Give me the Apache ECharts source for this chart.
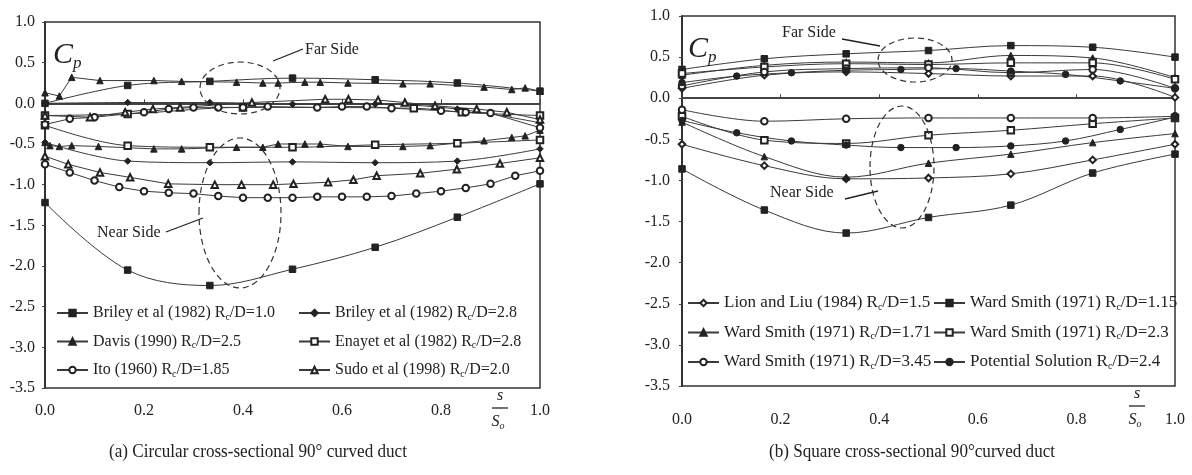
<!DOCTYPE html>
<html>
<head>
<meta charset="utf-8">
<script src="https://cdn.jsdelivr.net/npm/echarts@6/dist/echarts.min.js"></script>
<style>
  html, body { margin: 0; padding: 0; background: #fff; }
  #chart { width: 1192px; height: 475px; }
</style>
</head>
<body>
<div id="chart"></div>
<script>
// s/So stations
const sixths = [0, 0.167, 0.333, 0.5, 0.667, 0.833, 1.0];
const ninths = [0, 0.111, 0.222, 0.333, 0.444, 0.556, 0.667, 0.778, 0.889, 1.0];
const yTicks = [-3.5, -3.0, -2.5, -2.0, -1.5, -1.0, -0.5, 0.0, 0.5, 1.0];

// (a) circular duct
const brileyA_far = [0.0, 0.22, 0.27, 0.31, 0.29, 0.25, 0.15];
const brileyA_near = [-1.22, -2.05, -2.24, -2.04, -1.77, -1.40, -0.99];
const brileyB_far = [0.0, 0.01, 0.01, -0.01, -0.01, -0.07, -0.24];
const brileyB_near = [-0.48, -0.71, -0.73, -0.72, -0.73, -0.71, -0.56];

const davisFarX = [0, 0.029, 0.054, 0.111, 0.220, 0.276, 0.387, 0.440, 0.471, 0.525, 0.556, 0.612, 0.723, 0.778, 0.887, 0.943, 0.970, 1.0];
const davisFar = [0.13, 0.09, 0.32, 0.28, 0.28, 0.27, 0.26, 0.25, 0.25, 0.26, 0.26, 0.25, 0.24, 0.24, 0.20, 0.17, 0.19, 0.15];
const davisNearX = [0, 0.01, 0.029, 0.054, 0.108, 0.220, 0.276, 0.387, 0.440, 0.471, 0.525, 0.556, 0.612, 0.723, 0.778, 0.887, 0.943, 0.970, 1.0];
const davisNear = [-0.48, -0.52, -0.53, -0.52, -0.53, -0.56, -0.56, -0.54, -0.54, -0.50, -0.50, -0.50, -0.53, -0.53, -0.52, -0.46, -0.42, -0.40, -0.33];

const enayetFarX = [0, 0.167, 0.40, 0.745, 0.842, 1.0];
const enayetFar = [-0.15, -0.13, -0.05, -0.06, -0.11, -0.15];
const enayetNear = [-0.27, -0.52, -0.54, -0.54, -0.51, -0.49, -0.45];

const itoFarX = [0, 0.05, 0.10, 0.20, 0.25, 0.30, 0.35, 0.40, 0.45, 0.55, 0.60, 0.65, 0.70, 0.80, 0.85, 0.90, 1.0];
const itoFar = [-0.26, -0.19, -0.17, -0.11, -0.07, -0.05, -0.05, -0.05, -0.04, -0.05, -0.04, -0.04, -0.06, -0.09, -0.11, -0.12, -0.30];
const itoNearX = [0, 0.05, 0.10, 0.15, 0.20, 0.25, 0.30, 0.35, 0.40, 0.45, 0.50, 0.55, 0.60, 0.65, 0.70, 0.75, 0.80, 0.85, 0.90, 0.95, 1.0];
const itoNear = [-0.75, -0.85, -0.95, -1.03, -1.08, -1.10, -1.11, -1.14, -1.16, -1.16, -1.16, -1.15, -1.15, -1.15, -1.14, -1.11, -1.08, -1.04, -0.99, -0.89, -0.83];

const sudoFarX = [0, 0.091, 0.162, 0.218, 0.273, 0.418, 0.566, 0.613, 0.673, 0.727, 0.788, 0.872, 0.933, 1.0];
const sudoFar = [-0.15, -0.17, -0.11, -0.07, -0.05, 0.01, 0.05, 0.05, 0.04, 0.01, -0.03, -0.07, -0.11, -0.20];
const sudoNearX = [0, 0.047, 0.111, 0.172, 0.249, 0.343, 0.397, 0.461, 0.502, 0.572, 0.623, 0.670, 0.758, 0.832, 0.919, 1.0];
const sudoNear = [-0.65, -0.75, -0.85, -0.91, -0.99, -1.00, -1.00, -1.00, -0.99, -0.97, -0.94, -0.89, -0.86, -0.81, -0.74, -0.67];

// (b) square duct
const lionFar = [0.12, 0.28, 0.32, 0.30, 0.27, 0.27, 0.01];
const lionNear = [-0.56, -0.82, -0.98, -0.97, -0.92, -0.75, -0.56];
const ws115Far = [0.35, 0.48, 0.54, 0.58, 0.64, 0.62, 0.50];
const ws115Near = [-0.86, -1.36, -1.64, -1.45, -1.30, -0.91, -0.68];
const ws171Far = [0.28, 0.40, 0.44, 0.43, 0.52, 0.49, 0.25];
const ws171Near = [-0.29, -0.71, -0.96, -0.79, -0.68, -0.54, -0.43];
const ws23Far = [0.30, 0.38, 0.42, 0.41, 0.43, 0.43, 0.23];
const ws23Near = [-0.22, -0.51, -0.55, -0.45, -0.39, -0.31, -0.24];
const ws345Far = [0.15, 0.32, 0.36, 0.37, 0.31, 0.35, 0.12];
const ws345Near = [-0.14, -0.28, -0.25, -0.24, -0.24, -0.24, -0.22];
const potFar = [0.19, 0.27, 0.31, 0.34, 0.35, 0.36, 0.33, 0.29, 0.21, 0.12];
const potNear = [-0.27, -0.42, -0.52, -0.57, -0.60, -0.60, -0.58, -0.52, -0.38, -0.23];

const namesA = [
  'Briley et al (1982) Rc/D=1.0', 'Briley et al (1982) Rc/D=2.8',
  'Davis (1990) Rc/D=2.5', 'Enayet et al (1982) Rc/D=2.8',
  'Ito (1960) Rc/D=1.85', 'Sudo et al (1998) Rc/D=2.0'
];
const namesB = [
  'Lion and Liu (1984) Rc/D=1.5', 'Ward Smith (1971) Rc/D=1.15',
  'Ward Smith (1971) Rc/D=1.71', 'Ward Smith (1971) Rc/D=2.3',
  'Ward Smith (1971) Rc/D=3.45', 'Potential Solution Rc/D=2.4'
];

const FONT = 'Liberation Serif';
const INK = '#222';

function line(name, xs, ys, sym, g, smooth) {
  return {
    name: name, type: 'line', xAxisIndex: g, yAxisIndex: g,
    data: xs.map(function (x, i) { return [x, ys[i]]; }),
    symbol: sym, symbolSize: 6.5,
    smooth: smooth ? 0.35 : false,
    lineStyle: { color: '#3a3a3a', width: 1 },
    itemStyle: { color: INK, borderColor: INK, borderWidth: 1 },
    animation: false
  };
}

function xAxis(g, margin) {
  return {
    gridIndex: g, type: 'value', min: 0, max: 1, interval: 0.2,
    axisLine: { lineStyle: { color: '#444', width: 2 } },
    axisTick: { inside: true, length: 4, lineStyle: { color: '#444' } },
    axisLabel: { color: INK, fontFamily: FONT, fontSize: 16, margin: margin,
      formatter: function (v) { return v.toFixed(1); } },
    splitLine: { show: false }
  };
}
function yAxis(g, margin) {
  return {
    gridIndex: g, type: 'value', min: yTicks[0], max: yTicks[yTicks.length - 1], interval: 0.5,
    axisLine: { show: true, lineStyle: { color: '#222', width: 1.5 } },
    axisTick: { show: true, length: 3, lineStyle: { color: '#444' } },
    axisLabel: { color: INK, fontFamily: FONT, fontSize: 16, margin: margin,
      formatter: function (v) { return v.toFixed(1); } },
    splitLine: { show: false }
  };
}

function legend(names, left, top, gap, size) {
  return {
    data: names, orient: 'vertical', left: left, top: top,
    itemWidth: 31, itemHeight: 8, itemGap: gap,
    textStyle: {
      fontFamily: FONT, fontSize: size, color: INK, lineHeight: 18,
      rich: { s: { fontFamily: FONT, fontSize: 10, lineHeight: 10, verticalAlign: 'bottom', color: INK } }
    },
    formatter: function (n) { return n.replace('Rc/D', 'R{s|c}/D'); }
  };
}

function txt(x, y, s, size, extra) {
  return Object.assign({
    type: 'text', x: x, y: y, z: 10,
    style: { text: s, fontFamily: FONT, fontSize: size, fill: INK, textAlign: 'left', textVerticalAlign: 'middle' }
  }, extra || {});
}
function ell(cx, cy, rx, ry) {
  return { type: 'ellipse', shape: { cx: cx, cy: cy, rx: rx, ry: ry },
    style: { fill: 'none', stroke: '#333', lineWidth: 1.2, lineDash: [6, 4] }, z: 10 };
}
function seg(x1, y1, x2, y2) {
  return { type: 'line', shape: { x1: x1, y1: y1, x2: x2, y2: y2 },
    style: { stroke: '#222', lineWidth: 1.3 }, z: 10 };
}
function cp(x, y) {
  return {
    type: 'text', x: x, y: y, z: 10,
    style: {
      text: '{c|C}{p|p}', fontFamily: FONT,
      rich: {
        c: { fontFamily: FONT, fontStyle: 'italic', fontSize: 30, lineHeight: 34, fill: INK },
        p: { fontFamily: FONT, fontStyle: 'italic', fontSize: 17, lineHeight: 17, verticalAlign: 'bottom', fill: INK }
      }
    }
  };
}
function sOverS0(x, y) {
  return [
    { type: 'text', x: x, y: y, style: { text: 's', fontFamily: FONT, fontStyle: 'italic', fontSize: 16, fill: INK, textAlign: 'center', textVerticalAlign: 'middle' } },
    seg(x - 8, y + 12, x + 8, y + 12),
    { type: 'text', x: x - 2, y: y + 26, style: { text: '{a|S}{b|o}', rich: {
      a: { fontFamily: FONT, fontStyle: 'italic', fontSize: 16, lineHeight: 18, fill: INK },
      b: { fontFamily: FONT, fontStyle: 'italic', fontSize: 10, lineHeight: 10, verticalAlign: 'bottom', fill: INK } },
      textAlign: 'center', textVerticalAlign: 'middle' } }
  ];
}
function caption(cx, y, s) {
  return { type: 'text', x: cx, y: y, scaleX: 0.9, z: 10,
    style: { text: s, fontFamily: FONT, fontSize: 19, fill: INK, textAlign: 'center', textVerticalAlign: 'middle' } };
}

const chart = echarts.init(document.getElementById('chart'));

const option = {
  animation: false,
  backgroundColor: '#fff',
  grid: [
    { left: 45, top: 22, width: 495, height: 366, show: true, borderColor: '#333', borderWidth: 1.5 },
    { left: 682, top: 16, width: 493, height: 370, show: true, borderColor: '#333', borderWidth: 1.5 }
  ],
  xAxis: [xAxis(0, 15), xAxis(1, 26)],
  yAxis: [yAxis(0, 10), yAxis(1, 12)],
  legend: [
    legend([namesA[0], namesA[2], namesA[4]], 51, 299, 10.5, 16),
    legend([namesA[1], namesA[3], namesA[5]], 293, 299, 10.5, 16),
    legend([namesB[0], namesB[2], namesB[4]], 682, 289, 11.5, 17),
    legend([namesB[1], namesB[3], namesB[5]], 928, 289, 11.5, 17)
  ],
  series: [
    line(namesA[0], sixths, brileyA_far, 'rect', 0, true),
    line(namesA[0], sixths, brileyA_near, 'rect', 0, true),
    line(namesA[1], sixths, brileyB_far, 'diamond', 0, true),
    line(namesA[1], sixths, brileyB_near, 'diamond', 0, true),
    line(namesA[2], davisFarX, davisFar, 'triangle', 0, false),
    line(namesA[2], davisNearX, davisNear, 'triangle', 0, false),
    line(namesA[3], enayetFarX, enayetFar, 'emptyRect', 0, true),
    line(namesA[3], sixths, enayetNear, 'emptyRect', 0, true),
    line(namesA[4], itoFarX, itoFar, 'emptyCircle', 0, false),
    line(namesA[4], itoNearX, itoNear, 'emptyCircle', 0, false),
    line(namesA[5], sudoFarX, sudoFar, 'emptyTriangle', 0, false),
    line(namesA[5], sudoNearX, sudoNear, 'emptyTriangle', 0, false),

    line(namesB[0], sixths, lionFar, 'emptyDiamond', 1, true),
    line(namesB[0], sixths, lionNear, 'emptyDiamond', 1, true),
    line(namesB[1], sixths, ws115Far, 'rect', 1, true),
    line(namesB[1], sixths, ws115Near, 'rect', 1, true),
    line(namesB[2], sixths, ws171Far, 'triangle', 1, true),
    line(namesB[2], sixths, ws171Near, 'triangle', 1, true),
    line(namesB[3], sixths, ws23Far, 'emptyRect', 1, true),
    line(namesB[3], sixths, ws23Near, 'emptyRect', 1, true),
    line(namesB[4], sixths, ws345Far, 'emptyCircle', 1, true),
    line(namesB[4], sixths, ws345Near, 'emptyCircle', 1, true),
    line(namesB[5], ninths, potFar, 'circle', 1, true),
    line(namesB[5], ninths, potNear, 'circle', 1, true)
  ],
  graphic: [
    cp(53, 38), cp(688, 32),
    // panel (a) annotations
    ell(240, 88, 40, 26), seg(273, 61, 303, 49), txt(305, 50, 'Far Side', 16),
    ell(240, 213, 41, 75), seg(166, 232, 203, 218), txt(97, 233, 'Near Side', 16),
    // panel (b) annotations
    ell(915, 60, 37, 22), seg(842, 39, 880, 46), txt(782, 33, 'Far Side', 16),
    ell(902, 167, 32, 61), seg(845, 199, 878, 191), txt(770, 193, 'Near Side', 16)
  ].concat(sOverS0(500, 396), sOverS0(1137, 394), [
    caption(258, 452, '(a) Circular cross-sectional 90° curved duct'),
    caption(912, 452, '(b) Square cross-sectional 90°curved duct')
  ])
};

chart.setOption(option);
</script>
</body>
</html>
